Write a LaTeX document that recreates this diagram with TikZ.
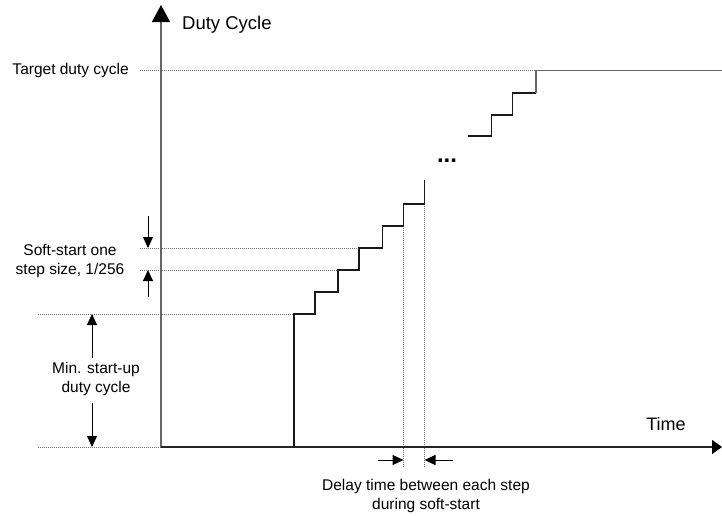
\documentclass[tikz,border=0pt]{standalone}
\usepackage{fontspec}
\setmainfont{Liberation Sans}
\usetikzlibrary{arrows.meta}
\begin{document}
\begin{tikzpicture}[x=1pt,y=-1pt,
  lbl/.style={font=\fontsize{15.5}{19}\selectfont, align=center, inner sep=0pt},
  guide/.style={draw=black!55, line width=0.6pt, dash pattern=on 1pt off 1pt},
  yaxis/.style={draw=black!60, line width=1.4pt, -{Triangle[width=18pt,length=17pt,color=black]}},
  xaxis/.style={draw=black!85, line width=1.3pt, -{Triangle[width=14pt,length=10pt,color=black]}},
  stair/.style={draw=black!90, line width=1.3pt},
  flat/.style={draw=black!60, line width=1.4pt},
  dimarrow/.style={draw=black, line width=1pt, -{Triangle[width=10pt,length=11pt]}}]
\useasboundingbox (0,0) rectangle (722,515);
\fill[white] (0,0) rectangle (722,515);

% coordinates
\coordinate (O) at (161,447);
\coordinate (Ytip) at (161,5);
\coordinate (Xtip) at (722,447);
\coordinate (s0) at (294,447);
\coordinate (s1) at (294,314);
\coordinate (s2) at (315,314);
\coordinate (s3) at (315,292);
\coordinate (s4) at (338,292);
\coordinate (s5) at (338,270);
\coordinate (s6) at (359,270);
\coordinate (s7) at (359,248);
\coordinate (s8) at (382.5,248);
\coordinate (s9) at (382.5,226);
\coordinate (s10) at (403.5,226);
\coordinate (s11) at (403.5,204);
\coordinate (s12) at (424.5,204);
\coordinate (s13) at (424.5,180);
\coordinate (u0) at (468,136);
\coordinate (u1) at (491.5,136);
\coordinate (u2) at (491.5,115);
\coordinate (u3) at (512.5,115);
\coordinate (u4) at (512.5,93);
\coordinate (u5) at (536,93);
\coordinate (u6) at (536,70.5);
\coordinate (u7) at (722,70.5);

% guide lines
\coordinate (gT) at (140,70.5);
\coordinate (gA) at (140,248);
\coordinate (gB) at (140,270);
\coordinate (gM) at (38,314);
\coordinate (gZ) at (38,447);
\coordinate (v1) at (403.5,468);
\coordinate (v2) at (424.5,468);
\draw[guide] (gT) -- (u6);
\draw[guide] (gA) -- (s7);
\draw[guide] (gB) -- (s5);
\draw[guide] (gM) -- (s1);
\draw[guide] (gZ) -- (O);
\draw[guide] (s10) -- (v1);
\draw[guide] (s12) -- (v2);

% axes
\draw[yaxis] (O) -- (Ytip);
\draw[xaxis] (O) -- (Xtip);

% stairs
\draw[stair] (s0) -- (s1) -- (s2) -- (s3) -- (s4) -- (s5) -- (s6) -- (s7) -- (s8) -- (s9) -- (s10) -- (s11) -- (s12) -- (s13);
\draw[stair] (u0) -- (u1) -- (u2) -- (u3) -- (u4) -- (u5);
\draw[flat] (u5) -- (u6) -- (u7);

% dimension arrows
\coordinate (a1s) at (148,216);
\coordinate (a2s) at (148,297);
\coordinate (a1e) at (148,248);
\coordinate (a2e) at (148,270);
\draw[dimarrow] (a1s) -- (a1e);
\draw[dimarrow] (a2s) -- (a2e);
\coordinate (m1s) at (92,358);
\coordinate (m1e) at (92,314);
\coordinate (m2s) at (92,403);
\coordinate (m2e) at (92,447);
\draw[dimarrow] (m1s) -- (m1e);
\draw[dimarrow] (m2s) -- (m2e);
\coordinate (d1s) at (378,460);
\coordinate (d1e) at (403.5,460);
\coordinate (d2s) at (453,460);
\coordinate (d2e) at (424.5,460);
\draw[dimarrow] (d1s) -- (d1e);
\draw[dimarrow] (d2s) -- (d2e);

% labels
\node[lbl, font=\fontsize{18.5}{22}\selectfont, anchor=west] (ylabel) at (182,25) {Duty Cycle};
\node[lbl, font=\fontsize{18}{21}\selectfont] (xlabel) at (666,424) {Time};
\node[lbl, anchor=east] (target) at (129,70.5) {Target duty cycle};
\node[lbl] (soft) at (70,261) {Soft-start one\\step size, 1/256};
\node[lbl] (minsu) at (96,379) {Min. start-up\\duty cycle};
\node[lbl] (delay) at (426,496) {Delay time between each step\\during soft-start};
\node[lbl, font=\bfseries\fontsize{24}{24}\selectfont] (dots) at (447,161) {...};
\end{tikzpicture}
\end{document}
